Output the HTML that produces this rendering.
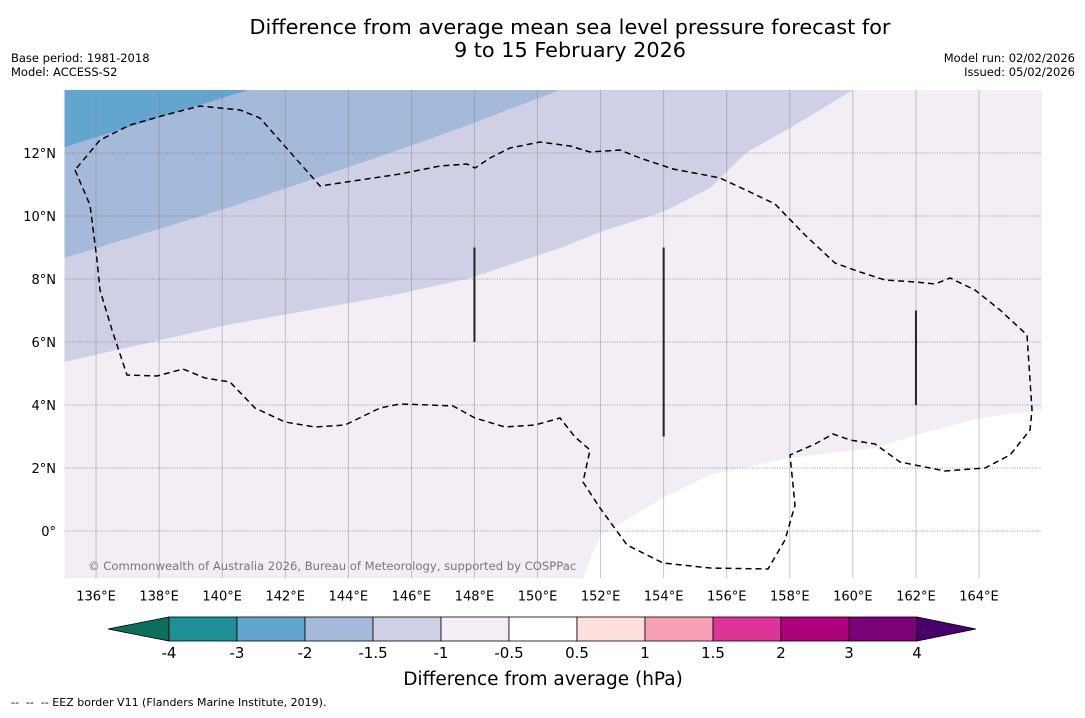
<!DOCTYPE html>
<html><head><meta charset="utf-8">
<style>
body{margin:0;background:#fff;font-family:"Liberation Sans","DejaVu Sans",sans-serif;}
svg text{font-family:"DejaVu Sans","Liberation Sans",sans-serif;}
</style></head>
<body>
<svg id="chart" width="1085" height="713" xmlns="http://www.w3.org/2000/svg">
<text x="570" y="34" font-size="20.8" text-anchor="middle">Difference from average mean sea level pressure forecast for</text>
<text x="570" y="57" font-size="20.8" text-anchor="middle">9 to 15 February 2026</text>
<text x="11" y="62" font-size="11.5">Base period: 1981-2018</text>
<text x="11" y="76" font-size="11.5">Model: ACCESS-S2</text>
<text x="1075" y="62" font-size="11.5" text-anchor="end">Model run: 02/02/2026</text>
<text x="1075" y="76" font-size="11.5" text-anchor="end">Issued: 05/02/2026</text>
<g id="map"></g>
<g id="cbar"></g>
<text x="543" y="685" font-size="18.5" text-anchor="middle">Difference from average (hPa)</text>
<text x="11" y="706" font-size="11" style="white-space:pre" xml:space="preserve">--  --  -- EEZ border V11 (Flanders Marine Institute, 2019).</text>
</svg>
<script>
// ---- data ----
const lonTicks=[136,138,140,142,144,146,148,150,152,154,156,158,160,162,164];
const latTicks=[0,2,4,6,8,10,12];
const cbLevels=[-4,-3,-2,-1.5,-1,-0.5,0.5,1,1.5,2,3,4];
const cbColors=["#1f8f96","#62a6cf","#a5b9da","#cfd0e6","#f3edf6","#ffffff","#fde0dd","#f99fb5","#dd3497","#ae017e","#7a0177"];
const cbUnder="#0c6e5c", cbOver="#4a006a";
// contour boundaries [lon,lat]
const bndMinus1=[[135,5.37],[140.15,6.54],[145.42,7.49],[147.86,8.03],[150.71,8.98],[151.98,9.49],[153.98,10.13],[155.47,10.89],[156.64,12.03],[158.0,12.79],[160.0,14]];
const bndMinus15=[[135,8.67],[140.15,10.25],[145.42,12.03],[147.54,12.79],[150.71,14]];
const bndMinus2=[[135,12.19],[140.82,14]];
const bndMinus05=[[151.44,-1.5],[151.98,-0.13],[153.98,1.05],[155.47,1.78],[158.0,2.32],[160.63,2.63],[162.03,3.05],[164.03,3.59],[166,3.84]];
const meridianSegs=[[148,9,6],[154,9,3],[162,7,4]];
const eez=[[75,170],[90,205],[97,260],[100,290],[112,330],[127,375],[157,376],[183,369],[205,378],[230,382],[255,408],[285,422],[315,427],[345,425],[380,408],[400,404],[430,405],[453,406],[475,418],[505,427],[535,425],[560,418],[575,437],[590,450],[583,482],[600,508],[627,545],[663,563],[710,568],[768,569],[785,540],[795,505],[790,455],[815,444],[833,434],[850,440],[875,444],[900,462],[945,471],[985,468],[1010,455],[1030,430],[1032,410],[1027,335],[1000,310],[975,290],[950,278],[935,284],[915,282],[885,280],[860,272],[835,263],[805,235],[775,204],[750,192],[720,178],[705,175],[673,169],[640,158],[620,150],[590,152],[570,146],[540,142],[510,148],[490,158],[475,168],[467,164],[440,166],[400,174],[360,180],[320,186],[290,152],[260,118],[240,110],[200,106],[165,115],[130,125],[100,140],[75,170]];
// ---- axes ----
const LON0=135,LON1=166,LAT0=-1.5,LAT1=14;
const X0=64.5,XS=31.535,Y0=531,YS=31.5;
const X=lon=>X0+(lon-LON0)*XS;
const Y=lat=>Y0-lat*YS;
const NS="http://www.w3.org/2000/svg";
function mk(tag,attrs,parent){const e=document.createElementNS(NS,tag);for(const k in attrs)e.setAttribute(k,attrs[k]);parent.appendChild(e);return e;}
const map=document.getElementById('map');
const xl=X(LON0),xr=X(LON1),yt=Y(LAT1),yb=Y(LAT0);
const cp=mk('clipPath',{id:'mc'},map);mk('rect',{x:xl,y:yt,width:xr-xl,height:yb-yt},cp);
const g=mk('g',{'clip-path':'url(#mc)'},map);
let r=mk('rect',{x:xl,y:yt,width:xr-xl,height:yb-yt,fill:cbColors[4]},g);


function above(b,color,name){
  const pts=b.map(p=>X(p[0])+','+Y(p[1]));
  pts.push(xl+','+yt);
  const p=mk('polygon',{points:pts.join(' '),fill:color},g);
  
  
}
above(bndMinus1,cbColors[3],'band-minus15-to-minus1');
above(bndMinus15,cbColors[2],'band-minus2-to-minus15');
above(bndMinus2,cbColors[1],'band-minus3-to-minus2');
{const pts=bndMinus05.map(p=>X(p[0])+','+Y(p[1]));pts.push(xr+','+yb);
 const p=mk('polygon',{points:pts.join(' '),fill:'#ffffff'},g);
 
 }
lonTicks.forEach(l=>{
  const ln=mk('line',{x1:X(l),x2:X(l),y1:yt,y2:yb,stroke:'#888','stroke-opacity':0.6,'stroke-width':0.8},g);
  
  
  const t=mk('text',{x:X(l),y:yb+22,'font-size':13,'text-anchor':'middle'},map);t.textContent=l+'°E';
  
  
});
latTicks.forEach(l=>{
  const ln=mk('line',{x1:xl,x2:xr,y1:Y(l),y2:Y(l),stroke:'#777','stroke-width':0.8,'stroke-dasharray':'1,1.5'},g);
  
  
  const t=mk('text',{x:56,y:Y(l)+5,'font-size':13,'text-anchor':'end'},map);t.textContent=l+(l===0?'°':'°N');
  
  
});
meridianSegs.forEach(s=>{
  const ln=mk('line',{x1:X(s[0]),x2:X(s[0]),y1:Y(s[1]),y2:Y(s[2]),stroke:'#222','stroke-width':2},g);
  
  
});
const pe=mk('polyline',{points:eez.map(p=>p.join(',')).join(' '),fill:'none',stroke:'#000','stroke-width':1.5,'stroke-dasharray':'6,4'},g);


const cr=mk('text',{x:88,y:570,'font-size':11.6,fill:'#777'},g);cr.textContent='© Commonwealth of Australia 2026, Bureau of Meteorology, supported by COSPPac';


// ---- colorbar ----
const cb=document.getElementById('cbar');
const CX0=169,CW=68,CT=617,CH=24;
const CBX=i=>CX0+i*CW;
const under=mk('polygon',{points:`${CBX(0)},${CT} ${CBX(0)},${CT+CH} 108,${CT+CH/2}`,fill:cbUnder,stroke:'#000','stroke-width':0.8},cb);


const n=cbColors.length;
const over=mk('polygon',{points:`${CBX(n)},${CT} ${CBX(n)},${CT+CH} 976,${CT+CH/2}`,fill:cbOver,stroke:'#000','stroke-width':0.8},cb);


cbColors.forEach((c,i)=>{
  const s=mk('rect',{x:CBX(i),y:CT,width:CW,height:CH,fill:c,stroke:'#000','stroke-width':0.8},cb);
  
  
});
cbLevels.forEach((v,i)=>{
  const t=mk('text',{x:CBX(i),y:658,'font-size':15,'text-anchor':'middle'},cb);t.textContent=v;
  
  
});
</script>
</body></html>
